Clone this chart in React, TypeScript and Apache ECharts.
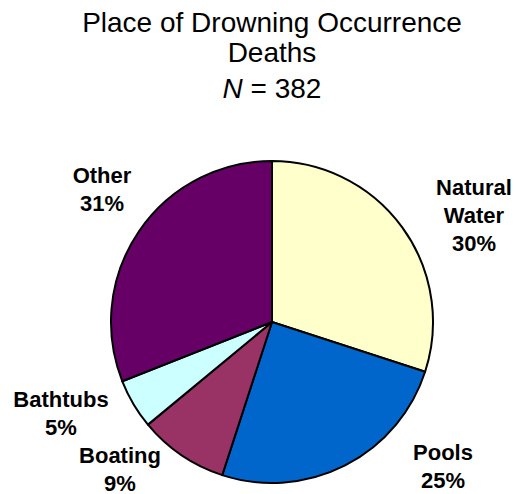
import React, { useEffect, useRef } from "react";
import * as echarts from "echarts";

const categories = ["Natural Water", "Pools", "Boating", "Bathtubs", "Other"];
const percents = [30, 25, 9, 5, 31];
const colors = ["#FFFFCC", "#0066CC", "#993366", "#CCFFFF", "#660066"];
const titleLines = ["Place of Drowning Occurrence", "Deaths"];
const sampleSize = 382;

// label anchor centres (layout)
const labelPos: [number, number][] = [
  [474, 215],
  [443, 466],
  [120, 469],
  [61, 413],
  [102, 189],
];

const FONT = '"Liberation Sans", Arial, Helvetica, sans-serif';

export default function App() {
  const ref = useRef<HTMLDivElement>(null);
  useEffect(() => {
    if (!ref.current) return;
    const chart = echarts.init(ref.current, null, { renderer: "svg" });
    chart.setOption({
      animation: false,
      backgroundColor: "#ffffff",
      graphic: [
        {
          type: "text",
          x: 272,
          y: 22.5,
          style: {
            text: titleLines[0],
            font: `28px ${FONT}`,
            fill: "#000",
            textAlign: "center",
            textVerticalAlign: "middle",
          },
        },
        {
          type: "text",
          x: 272,
          y: 52.5,
          style: {
            text: titleLines[1],
            font: `28px ${FONT}`,
            fill: "#000",
            textAlign: "center",
            textVerticalAlign: "middle",
          },
        },
        {
          type: "text",
          x: 272,
          y: 88.3,
          style: {
            text: `{i|N}{r| = ${sampleSize}}`,
            textAlign: "center",
            textVerticalAlign: "middle",
            rich: {
              i: { fontStyle: "italic", fontSize: 28, fontFamily: FONT, fill: "#000" },
              r: { fontSize: 28, fontFamily: FONT, fill: "#000" },
            },
          },
        },
      ],
      series: [
        {
          type: "pie",
          center: [272, 322],
          radius: 161,
          startAngle: 90,
          clockwise: true,
          silent: true,
          itemStyle: { borderColor: "#000", borderWidth: 2 },
          label: {
            show: true,
            position: "outside",
            alignTo: "none",
            overflow: "none",
            fontFamily: FONT,
            fontWeight: "bold",
            fontSize: 22,
            lineHeight: 28,
            color: "#000",
            align: "center",
            formatter: (p: any) => `${p.name.replace(" ", "\n")}\n${p.value}%`,
          },
          labelLine: { show: false },
          labelLayout: (params: any) => {
            const pos = labelPos[params.dataIndex];
            return { x: pos[0], y: pos[1], align: "center", verticalAlign: "middle" };
          },
          data: categories.map((name, i) => ({
            name,
            value: percents[i],
            itemStyle: { color: colors[i] },
          })),
        },
      ],
    });
    return () => chart.dispose();
  }, []);
  return (
    <div
      ref={ref}
      style={{ position: "fixed", left: 0, top: 0, width: 516, height: 494 }}
    />
  );
}
